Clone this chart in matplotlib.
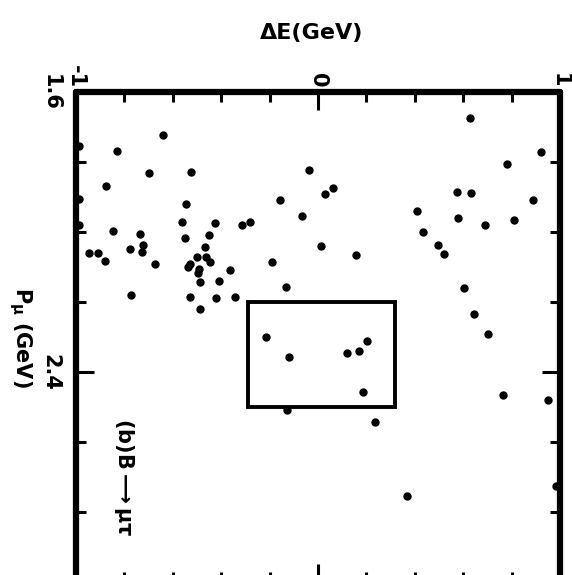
import matplotlib
matplotlib.use("Agg")
import matplotlib.pyplot as plt
from matplotlib.ticker import FixedLocator, MultipleLocator
from matplotlib.patches import Rectangle

# Data: Delta E (GeV) and P_mu (GeV) of each event
delta_e = [
    -0.640, -0.831, -0.698, -0.526, -0.876, -0.544, -0.564, -0.427, -0.314, -0.281,
    -0.847, -0.737, -0.551, -0.450, -0.722, -0.776, -0.729, -0.946, -0.911, -0.467,
    -0.879, -0.674, -0.500, -0.464, -0.445, -0.539, -0.529, -0.492, -0.494, -0.362,
    -0.487, -0.409, -0.774, -0.529, -0.423, -0.344, -0.486, -0.988, -0.988, -0.988,
    -0.038, 0.063, 0.027, -0.159, -0.067, 0.014, 0.156, -0.191, -0.134,
    0.628, 0.923, 0.780, 0.574, 0.632, 0.887, 0.410, 0.578, 0.809, 0.691,
    0.435, 0.496, 0.519, 0.603, 0.645, 0.704, 0.764, 0.952, 0.369, 0.984,
    -0.216, -0.119, 0.119, 0.168, 0.201, 0.186, -0.127, 0.234,
]
p_mu = [
    1.724, 1.769, 1.832, 1.828, 1.869, 1.921, 1.971, 1.974, 1.981, 1.971,
    1.996, 2.005, 2.016, 2.008, 2.036, 2.049, 2.058, 2.060, 2.061, 2.044,
    2.083, 2.092, 2.072, 2.072, 2.086, 2.099, 2.092, 2.107, 2.117, 2.108,
    2.143, 2.139, 2.180, 2.186, 2.189, 2.187, 2.219, 1.754, 1.906, 1.980,
    1.822, 1.875, 1.891, 1.909, 1.954, 2.041, 2.067, 2.085, 2.158,
    1.674, 1.771, 1.805, 1.886, 1.889, 1.909, 1.939, 1.959, 1.967, 1.980,
    2.000, 2.038, 2.063, 2.159, 2.233, 2.291, 2.467, 2.480, 2.753, 2.725,
    2.300, 2.357, 2.347, 2.341, 2.312, 2.458, 2.509, 2.543,
]

# signal box (Delta E range, P_mu range)
box_de = [-0.29, 0.32]
box_p = [2.20, 2.50]

x_ticks = [-1, 0, 1]
x_ticklabels = ["-1", "0", "1"]
y_ticks = [1.6, 2.4]
y_ticklabels = ["1.6", "2.4"]

plt.rcParams['font.family'] = ['DejaVu Sans']
plt.rcParams['font.weight'] = 'bold'
plt.rcParams['mathtext.fontset'] = 'dejavusans'
plt.rcParams['mathtext.default'] = 'bf'

fig = plt.figure(figsize=(5.72, 5.75), dpi=100)
ax = fig.add_axes([0.1329, -0.0122, 0.8462, 0.8522])

ax.plot(delta_e, p_mu, linestyle='none', marker='o', ms=5.0, color='black')

ax.add_patch(Rectangle((box_de[0], box_p[0]), box_de[1] - box_de[0], box_p[1] - box_p[0],
                       fill=False, edgecolor='black', linewidth=2.8))

ax.set_xlim(-1, 1)
ax.set_ylim(3.0, 1.6)

for s in ax.spines.values():
    s.set_linewidth(4.5)
    s.set_capstyle('round')

ax.xaxis.set_major_locator(FixedLocator(x_ticks))
ax.xaxis.set_minor_locator(MultipleLocator(0.2))
ax.yaxis.set_major_locator(FixedLocator(y_ticks))
ax.yaxis.set_minor_locator(MultipleLocator(0.2))
ax.set_xticklabels(x_ticklabels)
ax.set_yticklabels(y_ticklabels)

ax.tick_params(which='both', direction='in', top=True, bottom=True, left=True, right=True,
               labeltop=True, labelbottom=False, labelleft=True, labelright=False,
               width=2.2, color='black')
ax.tick_params(which='major', length=13)
ax.tick_params(which='minor', length=7)
ax.tick_params(axis='x', which='major', labelsize=15, pad=3, labelrotation=-90)
ax.tick_params(axis='y', which='major', labelsize=15, pad=11, labelrotation=-90)
for lab in ax.get_yticklabels():
    lab.set_verticalalignment('center')
    lab.set_fontweight('bold')
for lab in ax.get_xticklabels():
    lab.set_fontweight('bold')

fig.text(0.545, 0.943, "ΔE(GeV)", ha='center', va='center', fontsize=16, fontweight='bold')
fig.text(0.035, 0.414, r"P$_\mu$ (GeV)", ha='center', va='center', fontsize=15,
         fontweight='bold', rotation=-90)
fig.text(0.217, 0.170, r"(b)B$\longrightarrow$$\mu\tau$", ha='center', va='center',
         fontsize=15, fontweight='bold', rotation=-90)

fig.savefig("out.png", dpi=100)
